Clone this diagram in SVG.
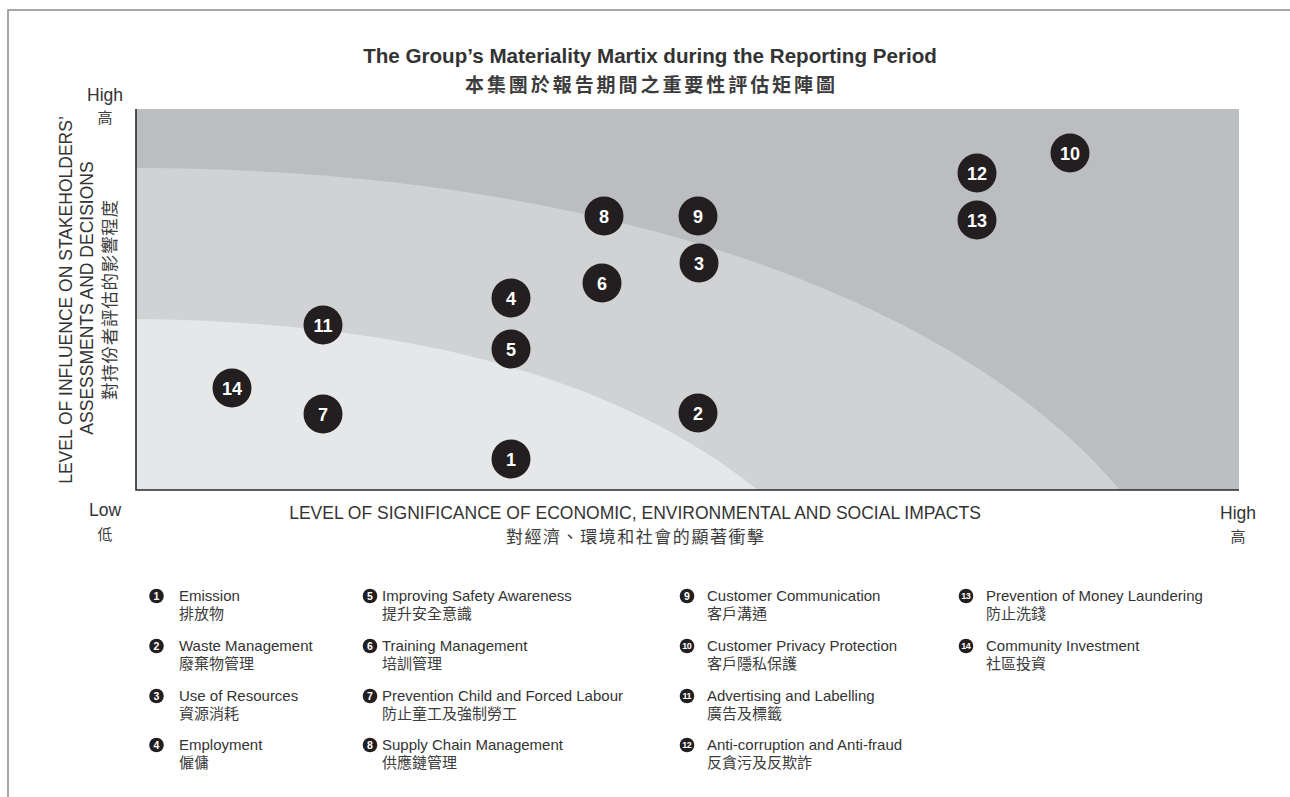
<svg xmlns="http://www.w3.org/2000/svg" width="1290" height="797" viewBox="0 0 1290 797">
<style>
.t{font-family:'Liberation Sans',Arial,'Noto Sans CJK TC',sans-serif;fill:#333}
.c{font-family:'Noto Sans CJK TC','Noto Sans CJK SC',sans-serif;fill:#3c3c3c}
.ax{font-size:17.5px}
.mid{text-anchor:middle}
.bub circle{fill:#231f20}
.bub text{font-family:'Liberation Sans',Arial,sans-serif;font-weight:bold;font-size:18px;fill:#fff;text-anchor:middle}
.lg circle{fill:#231f20}
.lg .n{font-family:'Liberation Sans',Arial,sans-serif;font-weight:bold;font-size:10.5px;fill:#fff;text-anchor:middle}
.lg .n2{font-size:9px;letter-spacing:-0.6px}
.lg .e{font-size:15px}
.lg .z{font-size:15px}
</style>
<path d="M8,797 V10 H1290" fill="none" stroke="#8a8a8a" stroke-width="1.5"/>
<g id="title">
<text class="t mid" x="650" y="63" font-size="20.6" font-weight="bold" fill="#222">The Group’s Materiality Martix during the Reporting Period</text>
<text class="c mid" x="650" y="92" font-size="19" font-weight="bold" fill="#222" textLength="370" lengthAdjust="spacing">本集團於報告期間之重要性評估矩陣圖</text>
</g>
<g id="chart">
<rect x="136" y="109" width="1103" height="381" fill="#bcbdc0"/>
<path d="M136,168 C600,168 960,300 1120,490 L136,490 Z" fill="#d1d2d4"/>
<path d="M136,319 C420,322 620,380 758,490 L136,490 Z" fill="#e6e7e8"/>
<path d="M136,109 V490 H1239" fill="none" stroke="#2a2a2a" stroke-width="1.6"/>
</g>
<g id="axis-labels">
<text class="t ax mid" x="105" y="101" font-size="18">High</text>
<text class="c mid" x="105" y="123" font-size="15">高</text>
<text class="t ax mid" x="105" y="516" font-size="18">Low</text>
<text class="c mid" x="105" y="540" font-size="15">低</text>
<text class="t ax mid" x="1238" y="519" font-size="18">High</text>
<text class="c mid" x="1238" y="542" font-size="15">高</text>
<text class="t ax mid" x="635" y="519">LEVEL OF SIGNIFICANCE OF ECONOMIC, ENVIRONMENTAL AND SOCIAL IMPACTS</text>
<text class="c mid" x="635" y="543" font-size="17" textLength="258" lengthAdjust="spacing">對經濟、環境和社會的顯著衝擊</text>
<text class="t ax mid" transform="translate(72,300) rotate(-90)">LEVEL OF INFLUENCE ON STAKEHOLDERS’</text>
<text class="t ax mid" transform="translate(93,298) rotate(-90)">ASSESSMENTS AND DECISIONS</text>
<text class="c mid" font-size="17.5" transform="translate(116,300) rotate(-90)" textLength="200" lengthAdjust="spacing">對持份者評估的影響程度</text>
</g>
<g id="connectors"></g>
<g id="n1" class="bub"><circle cx="511" cy="459" r="19.5"/><text x="511" y="465.5">1</text></g>
<g id="n2" class="bub"><circle cx="698" cy="413" r="19.5"/><text x="698" y="419.5">2</text></g>
<g id="n3" class="bub"><circle cx="699" cy="263" r="19.5"/><text x="699" y="269.5">3</text></g>
<g id="n4" class="bub"><circle cx="511" cy="298" r="19.5"/><text x="511" y="304.5">4</text></g>
<g id="n5" class="bub"><circle cx="511" cy="349" r="19.5"/><text x="511" y="355.5">5</text></g>
<g id="n6" class="bub"><circle cx="602" cy="283" r="19.5"/><text x="602" y="289.5">6</text></g>
<g id="n7" class="bub"><circle cx="323" cy="414" r="19.5"/><text x="323" y="420.5">7</text></g>
<g id="n8" class="bub"><circle cx="604" cy="216" r="19.5"/><text x="604" y="222.5">8</text></g>
<g id="n9" class="bub"><circle cx="698" cy="216" r="19.5"/><text x="698" y="222.5">9</text></g>
<g id="n10" class="bub"><circle cx="1070" cy="153" r="19.5"/><text x="1070" y="159.5">10</text></g>
<g id="n11" class="bub"><circle cx="323" cy="325" r="19.5"/><text x="323" y="331.5">11</text></g>
<g id="n12" class="bub"><circle cx="977" cy="173" r="19.5"/><text x="977" y="179.5">12</text></g>
<g id="n13" class="bub"><circle cx="977" cy="220" r="19.5"/><text x="977" y="226.5">13</text></g>
<g id="n14" class="bub"><circle cx="232" cy="388" r="19.5"/><text x="232" y="394.5">14</text></g>
<g id="legend" class="lg">
<g id="lg1"><circle cx="156.5" cy="596" r="7.3"/><text class="n" x="156.5" y="599.8">1</text><text class="t e" x="179" y="601">Emission</text><text class="c z" x="179" y="619">排放物</text></g>
<g id="lg2"><circle cx="156.5" cy="646" r="7.3"/><text class="n" x="156.5" y="649.8">2</text><text class="t e" x="179" y="651">Waste Management</text><text class="c z" x="179" y="669">廢棄物管理</text></g>
<g id="lg3"><circle cx="156.5" cy="696" r="7.3"/><text class="n" x="156.5" y="699.8">3</text><text class="t e" x="179" y="701">Use of Resources</text><text class="c z" x="179" y="719">資源消耗</text></g>
<g id="lg4"><circle cx="156.5" cy="745" r="7.3"/><text class="n" x="156.5" y="748.8">4</text><text class="t e" x="179" y="750">Employment</text><text class="c z" x="179" y="768">僱傭</text></g>
<g id="lg5"><circle cx="370" cy="596" r="7.3"/><text class="n" x="370" y="599.8">5</text><text class="t e" x="382" y="601">Improving Safety Awareness</text><text class="c z" x="382" y="619">提升安全意識</text></g>
<g id="lg6"><circle cx="370" cy="646" r="7.3"/><text class="n" x="370" y="649.8">6</text><text class="t e" x="382" y="651">Training Management</text><text class="c z" x="382" y="669">培訓管理</text></g>
<g id="lg7"><circle cx="370" cy="696" r="7.3"/><text class="n" x="370" y="699.8">7</text><text class="t e" x="382" y="701">Prevention Child and Forced Labour</text><text class="c z" x="382" y="719">防止童工及強制勞工</text></g>
<g id="lg8"><circle cx="370" cy="745" r="7.3"/><text class="n" x="370" y="748.8">8</text><text class="t e" x="382" y="750">Supply Chain Management</text><text class="c z" x="382" y="768">供應鏈管理</text></g>
<g id="lg9"><circle cx="687" cy="596" r="7.3"/><text class="n" x="687" y="599.8">9</text><text class="t e" x="707" y="601">Customer Communication</text><text class="c z" x="707" y="619">客戶溝通</text></g>
<g id="lg10"><circle cx="687" cy="646" r="7.3"/><text class="n n2" x="686.7" y="649.2">10</text><text class="t e" x="707" y="651">Customer Privacy Protection</text><text class="c z" x="707" y="669">客戶隱私保護</text></g>
<g id="lg11"><circle cx="687" cy="696" r="7.3"/><text class="n n2" x="686.7" y="699.2">11</text><text class="t e" x="707" y="701">Advertising and Labelling</text><text class="c z" x="707" y="719">廣告及標籤</text></g>
<g id="lg12"><circle cx="687" cy="745" r="7.3"/><text class="n n2" x="686.7" y="748.2">12</text><text class="t e" x="707" y="750">Anti-corruption and Anti-fraud</text><text class="c z" x="707" y="768">反貪污及反欺詐</text></g>
<g id="lg13"><circle cx="966" cy="596" r="7.3"/><text class="n n2" x="965.7" y="599.2">13</text><text class="t e" x="986" y="601">Prevention of Money Laundering</text><text class="c z" x="986" y="619">防止洗錢</text></g>
<g id="lg14"><circle cx="966" cy="646" r="7.3"/><text class="n n2" x="965.7" y="649.2">14</text><text class="t e" x="986" y="651">Community Investment</text><text class="c z" x="986" y="669">社區投資</text></g>
</g>
</svg>
